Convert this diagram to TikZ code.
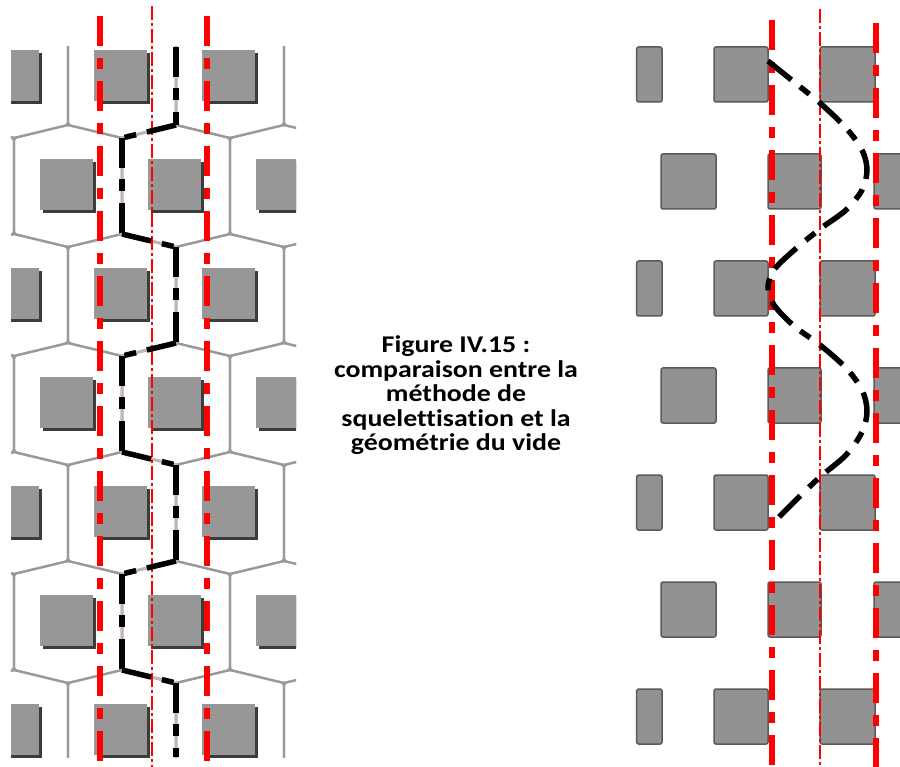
\documentclass[tikz,border=0pt]{standalone}
\usepackage{fontspec}
\usepackage{graphicx}
\setmainfont{Carlito}[Ligatures={NoCommon}]
\definecolor{sqgrey}{HTML}{979797}
\definecolor{sqshadow}{HTML}{3C3C3C}
\definecolor{cellline}{HTML}{999999}
\definecolor{pathgap}{HTML}{C9B2B2}
\definecolor{rsq}{HTML}{929292}
\definecolor{rsqborder}{HTML}{5A5A5A}
\tikzset{
 cellbound/.style={draw=cellline, line width=2.2pt, rounded corners=3pt},
 lsquare/.style={fill=sqgrey},
 lshadow/.style={fill=sqshadow},
 rsquare/.style={fill=rsq, draw=rsqborder, line width=1.5pt, rounded corners=2pt},
 thickred/.style={draw=red, line width=6pt, dash pattern=on 30pt off 12pt on 11pt off 12pt},
 thinred/.style={draw=red, line width=1.8pt, dash pattern=on 14pt off 3pt on 3pt off 3pt},
 blackpath/.style={draw=black, line width=5.5pt, dash pattern=on 30pt off 11pt on 12pt off 12pt},
 gapline/.style={draw=pathgap, line width=3pt},
 captiontext/.style={inner sep=0pt, font=\fontsize{24}{24.5}\selectfont\bfseries},
}
\begin{document}
\begin{tikzpicture}[x=1pt,y=-1pt]
\useasboundingbox (0,0) rectangle (900,767);
\fill[white] (0,0) rectangle (900,767);
% ---------------- left panel ----------------
\begin{scope}
\clip (11,47) rectangle (296,757);
\foreach \n in {-1,...,7}{
  \pgfmathsetmacro\yc{77+109*\n}
  \pgfmathsetmacro\off{ifthenelse(mod(\n+10,2)==0,0,54)}
  \foreach \k in {-1,...,3}{
    \pgfmathsetmacro\xc{14+108*\k+\off}
    \draw[cellbound] (\xc,\yc-61) -- (\xc+54,\yc-48) -- (\xc+54,\yc+48) -- (\xc,\yc+61) -- (\xc-54,\yc+48) -- (\xc-54,\yc-48) -- cycle;
  }
}
\foreach \n in {0,...,6}{
  \pgfmathsetmacro\yc{77+109*\n}
  \pgfmathsetmacro\off{ifthenelse(mod(\n+10,2)==0,0,54)}
  \foreach \k in {-1,...,3}{
    \pgfmathsetmacro\xc{14+108*\k+\off}
    \fill[lshadow] (\xc-25,\yc-24) rectangle (\xc+28,\yc+27);
    \fill[lsquare] (\xc-28,\yc-27) rectangle (\xc+25,\yc+24);
  }
}
\end{scope}
% skeleton path (left)
\coordinate (L0) at (176,47);
\coordinate (L1) at (176,125);
\coordinate (L2) at (122,138);
\coordinate (L3) at (122,234);
\coordinate (L4) at (176,247);
\coordinate (L5) at (176,343);
\coordinate (L6) at (122,356);
\coordinate (L7) at (122,452);
\coordinate (L8) at (176,465);
\coordinate (L9) at (176,561);
\coordinate (L10) at (122,574);
\coordinate (L11) at (122,670);
\coordinate (L12) at (176,683);
\coordinate (L13) at (176,757);
\draw[gapline] (L0) -- (L1) -- (L2) -- (L3) -- (L4) -- (L5) -- (L6) -- (L7) -- (L8) -- (L9) -- (L10) -- (L11) -- (L12) -- (L13);
% red guide lines (left)
\draw[thickred] (100,16) -- (100,767);
\draw[thickred] (207,16) -- (207,767);
\draw[thinred] (152,6) -- (152,767);
\foreach \a/\b in {L0/L1,L1/L2,L2/L3,L3/L4,L4/L5,L5/L6,L6/L7,L7/L8,L8/L9,L9/L10,L10/L11,L11/L12,L12/L13}
  \draw[blackpath] (\a) -- (\b);
% ---------------- right panel ----------------
\foreach \n in {0,2,4,6}{
  \pgfmathsetmacro\yt{47+107*\n}
  \draw[rsquare] (636.7,\yt) rectangle (662,\yt+55);
  \draw[rsquare] (714,\yt) rectangle (768,\yt+55);
  \draw[rsquare] (820,\yt) rectangle (875,\yt+55);
}
\foreach \n in {1,3,5}{
  \pgfmathsetmacro\yt{47+107*\n}
  \draw[rsquare] (661,\yt) rectangle (716,\yt+55);
  \draw[rsquare] (768,\yt) rectangle (821,\yt+55);
  \draw[rsquare] (874,\yt) rectangle (906,\yt+55);
}
\draw[thickred] (772,20) -- (772,767);
\draw[thickred] (876,23) -- (876,767);
\draw[thinred] (820,9) -- (820,767);
\draw[blackpath] plot[smooth, tension=0.55] coordinates {
 (768,61) (794,82) (820,103) (846,128) (862,150) (867,170) (862,190) (846,210)
 (820,229) (792,252) (774,270) (768,287) (774,305) (794,326) (820,345) (846,368)
 (862,390) (867,411) (862,432) (846,455) (820,477) (798,498) (776,520)};
% ---------------- caption ----------------
\node[captiontext] (caption) at (456,397) {\scalebox{1.16}[1]{\begin{tabular}{@{}c@{}}Figure IV.15 :\\comparaison entre la\\méthode de\\squelettisation et la\\géométrie du vide\end{tabular}}};
\end{tikzpicture}
\end{document}
